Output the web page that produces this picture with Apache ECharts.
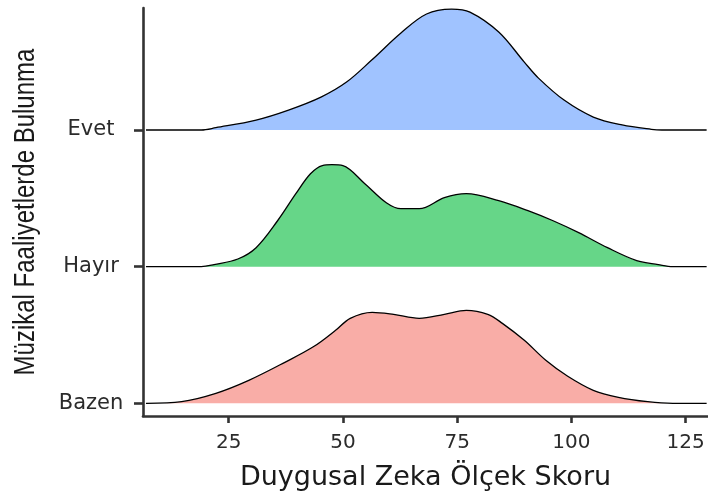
<!DOCTYPE html>
<html>
<head>
<meta charset="utf-8">
<script src="https://cdn.jsdelivr.net/npm/echarts@6/dist/echarts.min.js"></script>
<style>
  html, body { margin: 0; padding: 0; background: #fff; }
  #chart { width: 708px; height: 497px; }
</style>
</head>
<body>
<div id="chart"></div>
<script>
// gruplar (alttan üste)
const categories = ['Bazen', 'Hayır', 'Evet'];
const xTicks = [25, 50, 75, 100, 125];
const xRange = [6.9, 129.6];
const yTitle = 'Müzikal Faaliyetlerde Bulunma';

// yoğunluk eğrileri: [skor, yükseklik (sıra aralığı birimi)]
const bazenDensity = [
  [7.1, 0], [14.7, 0.012], [22.2, 0.073], [29.4, 0.168], [37.3, 0.3],
  [43.7, 0.417], [48.4, 0.534], [51.6, 0.622], [56.4, 0.666], [61.1, 0.651],
  [66.7, 0.622], [72.2, 0.651], [77.0, 0.68], [81.7, 0.651], [84.9, 0.585],
  [89.7, 0.461], [94.4, 0.315], [99.2, 0.198], [104.8, 0.095], [110.3, 0.044],
  [116.7, 0.012], [122.2, 0]
];
const hayirDensity = [
  [19.0, 0], [21.8, 0.015], [27.0, 0.056], [31.0, 0.139], [35.7, 0.336],
  [39.7, 0.534], [42.9, 0.68], [45.5, 0.74], [47.6, 0.746], [50.0, 0.739],
  [54.8, 0.607], [59.5, 0.468], [62.7, 0.424], [66.7, 0.424], [72.2, 0.505],
  [77.0, 0.534], [84.1, 0.483], [90.5, 0.41], [96.0, 0.336], [101.6, 0.249],
  [107.9, 0.139], [114.3, 0.044], [119.0, 0.015], [122.2, 0]
];
const evetDensity = [
  [19.0, 0], [22.2, 0.017], [31.0, 0.073], [38.1, 0.146], [45.2, 0.241],
  [50.8, 0.351], [56.3, 0.512], [62.7, 0.71], [68.3, 0.849], [73.8, 0.885],
  [77.8, 0.863], [84.1, 0.717], [89.7, 0.497], [92.8, 0.38], [98.4, 0.219],
  [104.8, 0.095], [111.1, 0.037], [117.5, 0.005], [119.8, 0]
];
const fillColors = ['#F9ADA7', '#66D688', '#A0C3FF'];

var chart = echarts.init(document.getElementById('chart'));

// her grubu kendi taban çizgisinin üstüne oturt
function ridge(points, base) {
  var d = [[xRange[0], base]];
  points.forEach(function (p) { d.push([p[0], base + p[1]]); });
  d.push([xRange[1], base]);
  return d;
}

const densities = [bazenDensity, hayirDensity, evetDensity];
const series = densities.map(function (pts, i) {
  return {
    name: categories[i],
    type: 'line',
    data: ridge(pts, i),
    smooth: 0.35,
    symbol: 'none',
    lineStyle: { color: '#000', width: 1.3 },
    areaStyle: { color: fillColors[i], opacity: 1, origin: i },
    z: 10 - i
  };
});

const option = {
  animation: false,
  grid: { left: 143, right: 0, top: 8, bottom: 81 },
  // y ekseni başlığı: orijinaldeki gibi yatayda biraz geniş
  graphic: [{
    type: 'text',
    x: 26,
    y: 212,
    rotation: Math.PI / 2,
    scaleY: 1.2,
    style: {
      text: yTitle,
      fontFamily: 'Liberation Sans',
      fontSize: 24,
      fill: '#1a1a1a',
      align: 'center',
      verticalAlign: 'middle'
    }
  }],
  xAxis: {
    type: 'value',
    min: 6.25,
    max: 129.9,
    name: 'Duygusal Zeka Ölçek Skoru',
    nameLocation: 'middle',
    nameGap: 48,
    nameTextStyle: { fontFamily: 'DejaVu Sans', fontSize: 27, color: '#1a1a1a' },
    axisLine: { onZero: false, lineStyle: { color: '#333', width: 2.6 } },
    axisTick: { length: 7, customValues: xTicks, lineStyle: { color: '#333', width: 2.6 } },
    axisLabel: { customValues: xTicks, margin: 17, fontFamily: 'DejaVu Sans', fontSize: 20, color: '#2b2b2b' },
    splitLine: { show: false }
  },
  yAxis: {
    type: 'value',
    min: -0.093,
    max: 2.893,
    axisLine: { onZero: false, lineStyle: { color: '#333', width: 2.6 } },
    axisTick: { length: 9, customValues: [0, 1, 2], lineStyle: { color: '#333', width: 2.6 } },
    axisLabel: {
      customValues: [0, 1, 2],
      margin: 52,
      align: 'center',
      fontFamily: 'DejaVu Sans',
      fontSize: 21,
      color: '#2b2b2b',
      formatter: function (v) { return categories[Math.round(v)]; }
    },
    splitLine: { show: false }
  },
  series: series
};

chart.setOption(option);
window.addEventListener('resize', () => {
  chart.resize();
});
</script>
</body>
</html>
